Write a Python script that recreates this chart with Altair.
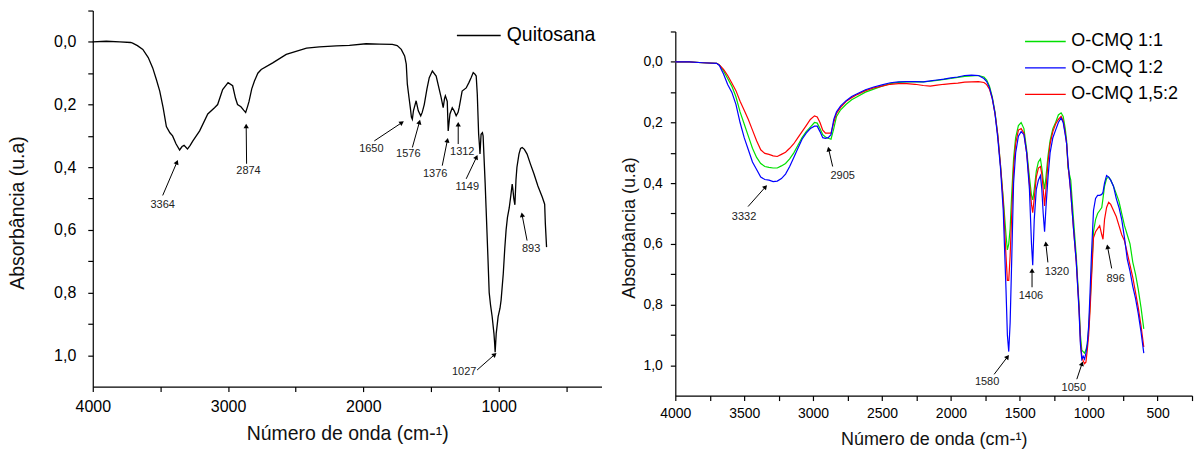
import math
import altair as alt
import pandas as pd

FONT = "Liberation Sans"

# ---------------- Left panel: Quitosana ----------------
quit_wn = [4000, 3900, 3800, 3720, 3705, 3670, 3630, 3590, 3557, 3530, 3505, 3480, 3456, 3430,
           3410, 3385, 3358, 3340, 3325, 3300, 3280, 3260, 3210, 3150, 3100, 3077, 3040, 3000,
           2966, 2945, 2930, 2905, 2885, 2870, 2855, 2845, 2825, 2805, 2780, 2755, 2670, 2570,
           2420, 2325, 2200, 2103, 1980, 1882, 1786, 1750, 1720, 1695, 1683, 1675, 1662, 1653,
           1645, 1638, 1630, 1610, 1594, 1576, 1565, 1550, 1530, 1513, 1490, 1462, 1440, 1425,
           1410, 1400, 1394, 1380, 1373, 1365, 1360, 1343, 1329, 1314, 1300, 1292, 1270, 1240,
           1220, 1203, 1188, 1175, 1166, 1158, 1148, 1142, 1138, 1130, 1120, 1115, 1100, 1093,
           1080, 1070, 1060, 1048, 1035, 1030, 1026, 1022, 1018, 1010, 1004, 990, 982, 966, 955,
           945, 935, 922, 910, 900, 895, 888, 880, 872, 865, 850, 838, 826, 810, 790, 765, 740,
           710, 678, 660, 655, 646]
quit_abs = [0.0, -0.002, 0.0, 0.002, 0.004, 0.012, 0.024, 0.05, 0.083, 0.12, 0.157, 0.21, 0.27,
            0.29, 0.30, 0.325, 0.345, 0.334, 0.33, 0.342, 0.33, 0.316, 0.284, 0.23, 0.21, 0.2,
            0.152, 0.13, 0.14, 0.18, 0.2, 0.207, 0.218, 0.225, 0.205, 0.19, 0.15, 0.125, 0.1,
            0.088, 0.067, 0.04, 0.02, 0.016, 0.013, 0.011, 0.006, 0.007, 0.008, 0.012, 0.024,
            0.045, 0.071, 0.135, 0.18, 0.21, 0.24, 0.247, 0.22, 0.188, 0.22, 0.236, 0.225, 0.2,
            0.15, 0.114, 0.093, 0.109, 0.15, 0.178, 0.21, 0.18, 0.172, 0.19, 0.284, 0.25, 0.23,
            0.21, 0.22, 0.236, 0.225, 0.21, 0.157, 0.147, 0.13, 0.114, 0.098, 0.103, 0.109,
            0.167, 0.295, 0.33, 0.358, 0.295, 0.29, 0.30, 0.45, 0.53, 0.68, 0.80, 0.84, 0.877,
            0.93, 0.96, 0.99, 0.96, 0.93, 0.9, 0.877, 0.85, 0.824, 0.74, 0.66, 0.60, 0.56, 0.53,
            0.49, 0.454, 0.47, 0.50, 0.52, 0.44, 0.40, 0.358, 0.34, 0.337, 0.343, 0.358, 0.39,
            0.42, 0.46, 0.495, 0.518, 0.58, 0.655]

quit_series = ["Quitosana"]

left_ann_label = ["3364", "2874", "1650", "1576", "1376", "1312", "1149", "893", "1027"]
left_ann_text_wn = [3483, 2849, 1941, 1668, 1469, 1269, 1232, 760, 1255]
left_ann_text_abs = [0.52, 0.413, 0.342, 0.357, 0.421, 0.353, 0.464, 0.66, 1.053]
left_ann_tail_wn = [3483, 2863, 1919, 1638, 1417, 1299, 1240, 790, 1159]
left_ann_tail_abs = [0.49, 0.389, 0.316, 0.337, 0.395, 0.326, 0.437, 0.634, 1.047]
left_ann_head_wn = [3380, 2866, 1720, 1587, 1380, 1299, 1166, 826, 1033]
left_ann_head_abs = [0.386, 0.271, 0.259, 0.258, 0.316, 0.265, 0.37, 0.554, 0.999]

# ---------------- Right panel: O-CMQ ----------------
ocmq_wn = [4000, 3900, 3800, 3700, 3680, 3650, 3620, 3590, 3560, 3530, 3500, 3470, 3440, 3410,
           3380, 3350, 3320, 3290, 3260, 3230, 3200, 3170, 3140, 3110, 3080, 3050, 3020, 2990,
           2970, 2950, 2930, 2910, 2890, 2870, 2850, 2830, 2800, 2760, 2720, 2680, 2620, 2560,
           2500, 2440, 2380, 2320, 2260, 2200, 2150, 2100, 2050, 2000, 1950, 1900, 1850, 1800,
           1760, 1740, 1720, 1700, 1680, 1660, 1640, 1620, 1600, 1590, 1580, 1570, 1560, 1545,
           1530, 1510, 1490, 1470, 1450, 1430, 1415, 1406, 1395, 1380, 1365, 1350, 1340, 1330,
           1320, 1310, 1295, 1280, 1260, 1240, 1220, 1200, 1185, 1170, 1160, 1150, 1130, 1110,
           1090, 1070, 1060, 1050, 1040, 1030, 1020, 1010, 1000, 990, 980, 965, 950, 935, 920,
           905, 896, 885, 870, 855, 840, 820, 800, 780, 760, 740, 720, 700, 680, 660, 640, 620,
           600]
ocmq_11 = [0.0, 0.0, 0.003, 0.005, 0.01, 0.03, 0.055, 0.08, 0.115, 0.165, 0.205, 0.245, 0.285,
           0.315, 0.335, 0.345, 0.348, 0.35, 0.35, 0.343, 0.335, 0.32, 0.30, 0.275, 0.25, 0.23,
           0.215, 0.2, 0.202, 0.22, 0.24, 0.248, 0.252, 0.255, 0.22, 0.18, 0.158, 0.14, 0.125,
           0.115, 0.1, 0.09, 0.08, 0.072, 0.068, 0.066, 0.065, 0.066, 0.064, 0.061, 0.058, 0.055,
           0.051, 0.048, 0.046, 0.045, 0.05, 0.06, 0.08, 0.115, 0.165, 0.24, 0.34, 0.45, 0.57,
           0.62, 0.6, 0.55, 0.45, 0.32, 0.25, 0.21, 0.2, 0.22, 0.29, 0.38, 0.44, 0.455, 0.42,
           0.36, 0.33, 0.32, 0.35, 0.39, 0.42, 0.38, 0.31, 0.26, 0.22, 0.2, 0.175, 0.168, 0.18,
           0.22, 0.26, 0.35, 0.39, 0.52, 0.64, 0.80, 0.90, 0.95, 0.955, 0.96, 0.95, 0.93, 0.88,
           0.8, 0.7, 0.56, 0.52, 0.5, 0.49, 0.48, 0.45, 0.41, 0.385, 0.38, 0.39, 0.41, 0.435,
           0.46, 0.5, 0.54, 0.57, 0.6, 0.66, 0.7, 0.75, 0.81, 0.88]
ocmq_12 = [0.0, 0.0, 0.003, 0.005, 0.012, 0.04, 0.075, 0.10, 0.14, 0.20, 0.25, 0.29, 0.33, 0.355,
           0.38, 0.388, 0.39, 0.395, 0.393, 0.385, 0.37, 0.345, 0.315, 0.285, 0.255, 0.235, 0.22,
           0.212, 0.212, 0.23, 0.25, 0.252, 0.25, 0.24, 0.19, 0.165, 0.145, 0.128, 0.114, 0.105,
           0.092, 0.083, 0.076, 0.069, 0.066, 0.065, 0.065, 0.066, 0.063, 0.06, 0.057, 0.053,
           0.05, 0.045, 0.044, 0.045, 0.055, 0.065, 0.085, 0.12, 0.17, 0.25, 0.35, 0.49, 0.75,
           0.9, 0.955, 0.86, 0.68, 0.40, 0.30, 0.245, 0.23, 0.24, 0.30, 0.42, 0.6, 0.67, 0.52,
           0.42, 0.39, 0.375, 0.42, 0.50, 0.56, 0.48, 0.38, 0.30, 0.25, 0.225, 0.20, 0.185, 0.2,
           0.24, 0.27, 0.33, 0.43, 0.55, 0.66, 0.82, 0.93, 0.98, 0.97, 0.98, 0.96, 0.93, 0.87,
           0.76, 0.64, 0.49, 0.45, 0.44, 0.44, 0.437, 0.43, 0.40, 0.375, 0.38, 0.39, 0.41, 0.45,
           0.48, 0.52, 0.58, 0.65, 0.69, 0.74, 0.78, 0.83, 0.89, 0.96]
ocmq_152 = [0.0, 0.0, 0.003, 0.005, 0.01, 0.025, 0.045, 0.07, 0.095, 0.13, 0.16, 0.19, 0.225,
            0.26, 0.29, 0.302, 0.305, 0.31, 0.312, 0.305, 0.298, 0.285, 0.27, 0.25, 0.23, 0.21,
            0.19, 0.178, 0.182, 0.2, 0.225, 0.235, 0.235, 0.235, 0.2, 0.17, 0.15, 0.13, 0.118,
            0.108, 0.095, 0.086, 0.08, 0.074, 0.072, 0.072, 0.074, 0.078, 0.08, 0.077, 0.074,
            0.072, 0.07, 0.067, 0.066, 0.065, 0.068, 0.075, 0.09, 0.12, 0.17, 0.24, 0.34, 0.46,
            0.64, 0.72, 0.72, 0.64, 0.52, 0.35, 0.27, 0.225, 0.22, 0.235, 0.30, 0.40, 0.47, 0.497,
            0.45, 0.38, 0.35, 0.345, 0.37, 0.42, 0.475, 0.42, 0.33, 0.27, 0.23, 0.205, 0.19, 0.18,
            0.195, 0.235, 0.27, 0.34, 0.43, 0.55, 0.66, 0.81, 0.92, 0.97, 0.985, 0.995, 0.99,
            0.95, 0.9, 0.82, 0.72, 0.58, 0.56, 0.55, 0.54, 0.57, 0.585, 0.52, 0.48, 0.463, 0.47,
            0.49, 0.51, 0.54, 0.57, 0.59, 0.63, 0.67, 0.71, 0.76, 0.81, 0.87, 0.94]

ocmq_series = ["O-CMQ 1:1", "O-CMQ 1:2", "O-CMQ 1,5:2"]
ocmq_colors = ["#00e000", "#0000ff", "#ff0000"]

right_ann_label = ["3332", "2905", "1580", "1406", "1320", "896", "1050"]
right_ann_text_wn = [3501, 2785, 1737, 1419, 1231, 804, 1108]
right_ann_text_abs = [0.513, 0.375, 1.056, 0.773, 0.694, 0.717, 1.076]
right_ann_tail_wn = [3472, 2858, 1686, 1411, 1296, 833, 1086]
right_ann_tail_abs = [0.477, 0.345, 1.03, 0.743, 0.661, 0.681, 1.046]
right_ann_head_wn = [3349, 2886, 1592, 1411, 1310, 862, 1050]
right_ann_head_abs = [0.414, 0.29, 0.974, 0.69, 0.602, 0.612, 0.997]

# ---------------- helpers ----------------
Y_DOMAIN = [-0.1, 1.1]
Y_TICKS = [round(i * 0.1, 1) for i in range(-1, 11)]
Y_LABEL = ("datum.value >= 0 && round(datum.value * 10) % 2 == 0 ? "
           "replace(format(datum.value, '.1f'), '.', ',') : ''")


def ann_frame(labels, twn, tab, tlwn, tlab, hwn, hab, xdom, width, height):
    kx = width / (xdom[1] - xdom[0])
    ky = height / (Y_DOMAIN[1] - Y_DOMAIN[0])
    angles = []
    for a, b, c, d in zip(tlwn, tlab, hwn, hab):
        dx = (a - c) * kx
        dy = (d - b) * ky
        angles.append(math.degrees(math.atan2(dx, -dy)) % 360)
    return pd.DataFrame({"label": labels, "twn": twn, "tab": tab, "tlwn": tlwn,
                         "tlab": tlab, "hwn": hwn, "hab": hab, "angle": angles})


def panel(lines, ann, series, colors, width, height, xdom, xstep, xlabstep,
          lab_size, title_size, ypad, ytitlepad, xpad, xtitlepad, title_dy,
          leg_x, leg_y, leg_path, leg_font, leg_off, leg_rowpad, stroke_w):
    xs = alt.Scale(domain=xdom, reverse=True, nice=False, zero=False)
    ys = alt.Scale(domain=Y_DOMAIN, reverse=True, nice=False, zero=False)
    xa = alt.Axis(values=list(range(xstep, 4001, xstep)),
                  labelExpr=f"datum.value % {xlabstep} == 0 ? format(datum.value, 'd') : ''",
                  title="Número de onda (cm-¹)", labelFontSize=lab_size,
                  titleFontSize=title_size, tickSize=5, labelPadding=xpad,
                  titlePadding=xtitlepad, labelFlush=False, labelOverlap=False,
                  grid=False)
    ya = alt.Axis(values=Y_TICKS, labelExpr=Y_LABEL, title="Absorbância (u.a)",
                  labelFontSize=lab_size, titleFontSize=title_size, tickSize=5,
                  labelPadding=ypad, titlePadding=ytitlepad, labelFlush=False,
                  labelOverlap=False, grid=False, titleY=height / 2 + title_dy)

    base_line = alt.Chart(lines).mark_line(strokeWidth=stroke_w, interpolate="linear").encode(
        x=alt.X("wn:Q", scale=xs, axis=xa),
        y=alt.Y("abs:Q", scale=ys, axis=ya),
        color=alt.Color("series:N", sort=series,
                        scale=alt.Scale(domain=series, range=colors),
                        legend=alt.Legend(title=None, orient="none", legendX=leg_x,
                                          legendY=leg_y, symbolType=leg_path,
                                          symbolSize=576, symbolStrokeWidth=1.4,
                                          labelFontSize=leg_font, labelFont=FONT,
                                          labelColor="black", rowPadding=leg_rowpad,
                                          labelOffset=leg_off, padding=0)),
        order=alt.Order("ord:Q"),
        detail="series:N",
    )
    shafts = alt.Chart(ann).mark_rule(color="black", strokeWidth=1).encode(
        x=alt.X("tlwn:Q", scale=xs, axis=xa), x2="hwn:Q",
        y=alt.Y("tlab:Q", scale=ys, axis=ya), y2="hab:Q")
    heads = alt.Chart(ann).mark_point(shape="triangle", filled=True, color="black",
                                      size=28, opacity=1).encode(
        x=alt.X("hwn:Q", scale=xs, axis=xa),
        y=alt.Y("hab:Q", scale=ys, axis=ya),
        angle=alt.Angle("angle:Q", scale=None))
    texts = alt.Chart(ann).mark_text(font=FONT, fontSize=11, color="#222222",
                                     align="center", baseline="middle").encode(
        x=alt.X("twn:Q", scale=xs, axis=xa),
        y=alt.Y("tab:Q", scale=ys, axis=ya),
        text="label:N")
    return alt.layer(base_line, shafts, heads, texts).properties(width=width, height=height)


# ---------------- data frames ----------------
left_lines = pd.DataFrame({"wn": quit_wn, "abs": quit_abs, "series": quit_series[0]})
left_lines["ord"] = range(len(left_lines))

right_parts = []
for name, vals in [(ocmq_series[0], ocmq_11), (ocmq_series[2], ocmq_152), (ocmq_series[1], ocmq_12)]:
    d = pd.DataFrame({"wn": ocmq_wn, "abs": vals, "series": name})
    right_parts.append(d)
right_lines = pd.concat(right_parts, ignore_index=True)
right_lines["ord"] = right_lines.groupby("series").cumcount()

WL, HL, XDL = 510, 377, [240, 4000]
WR, HR, XDR = 518, 365, [250, 4000]

left_ann = ann_frame(left_ann_label, left_ann_text_wn, left_ann_text_abs, left_ann_tail_wn,
                     left_ann_tail_abs, left_ann_head_wn, left_ann_head_abs, XDL, WL, HL)
right_ann = ann_frame(right_ann_label, right_ann_text_wn, right_ann_text_abs, right_ann_tail_wn,
                      right_ann_tail_abs, right_ann_head_wn, right_ann_head_abs, XDR, WR, HR)

left = panel(left_lines, left_ann, quit_series, ["black"], WL, HL, XDL, 500, 1000,
             16, 19.5, 12, 26, 7, 10, 14,
             374, 12, "M-1.83,0H1.83", 19.5, 15, 0, 1.3)
right = panel(right_lines, right_ann, ocmq_series, ocmq_colors, WR, HR, XDR, 250, 500,
              14, 18, 8, 4, 6, 10, 14,
              358, 18, "M-1.7,0H1.7", 18, 13, 4.5, 1.2)

# invisible spacer that pushes the right panel down
spacer = alt.Chart(pd.DataFrame({"s": [0]})).mark_point(opacity=0).encode(
    x=alt.value(0), y=alt.value(0)).properties(width=WR, height=14)

right_col = alt.vconcat(spacer, right, spacing=0)

chart = alt.hconcat(left, right_col, spacing=19).resolve_scale(
    color="independent", x="independent", y="independent"
).resolve_legend(color="independent").properties(
    padding={"left": 7, "top": 2, "right": 4, "bottom": 2},
    background="white",
).configure_view(stroke=None).configure_axis(
    domainColor="black", tickColor="black", labelColor="black", titleColor="#111111",
    labelFont=FONT, titleFont=FONT, titleFontWeight="normal", domainWidth=1.2, tickWidth=1.2,
).configure_legend(labelFont=FONT)

chart.save("out.html", embed_options={"renderer": "svg", "actions": False})
